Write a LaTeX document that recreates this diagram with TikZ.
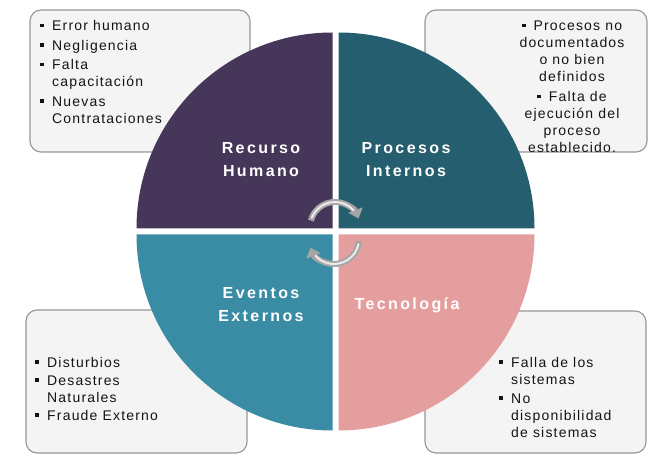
\documentclass[tikz,border=0pt]{standalone}
\usepackage{fontspec}
\setmainfont{Liberation Sans}
\newfontfamily\listfont[LetterSpace=8.5]{Liberation Sans}
\newfontfamily\labfont[LetterSpace=15]{Liberation Sans}
\usetikzlibrary{arrows.meta}
\definecolor{cpurple}{RGB}{70,54,90}
\definecolor{cteal}{RGB}{37,94,110}
\definecolor{clteal}{RGB}{58,140,165}
\definecolor{cpink}{RGB}{229,158,158}
\definecolor{cbox}{RGB}{244,244,244}
\definecolor{cboxline}{RGB}{150,150,150}
\definecolor{ctext}{RGB}{20,20,20}
\definecolor{carrow}{RGB}{165,165,165}
\definecolor{carrowhi}{RGB}{235,235,235}
\newcommand{\bul}{\raisebox{3.5pt}{\rule{3.6pt}{3.6pt}}}
\newcommand{\bb}{\makebox[12pt][l]{\bul}}
\tikzset{
  infobox/.style={fill=cbox,draw=cboxline,line width=1.1pt,rounded corners=11pt},
  listtxt/.style={inner sep=0pt,text=ctext,font=\listfont\fontsize{14}{17}\selectfont},
  labtxt/.style={inner sep=0pt,text=white,font=\labfont\bfseries\fontsize{16}{23}\selectfont},
  cyclearrow/.style={line width=6pt,draw=carrow,-{Triangle[width=15pt,length=9pt]}},
  cyclehi/.style={line width=2pt,draw=carrowhi,line cap=round}
}
\begin{document}
\begin{tikzpicture}[x=1pt,y=1pt]
\useasboundingbox (0,0) rectangle (652,455);
% info boxes
\draw[infobox] (30,303) rectangle (250,445);
\draw[infobox] (425,303) rectangle (647,445);
\draw[infobox] (26,2) rectangle (247,145);
\draw[infobox] (425,2) rectangle (646,144);
% quadrants
\fill[cpurple] (332.5,226.5) -- ++(-196,0) arc[start angle=180,end angle=90,radius=196] -- cycle;
\fill[cteal] (338.5,226.5) -- ++(196,0) arc[start angle=0,end angle=90,radius=196] -- cycle;
\fill[clteal] (332.5,220.5) -- ++(-196,0) arc[start angle=180,end angle=270,radius=196] -- cycle;
\fill[cpink] (338.5,220.5) -- ++(196,0) arc[start angle=0,end angle=-90,radius=196] -- cycle;
% cycle arrows
\coordinate (ca) at (335,228);
\coordinate (cb) at (334,216);
\draw[cyclearrow] (ca) ++(165:25) arc[start angle=165,end angle=20,radius=25];
\draw[cyclehi] (ca) ++(158:25) arc[start angle=158,end angle=42,radius=25];
\draw[cyclearrow] (cb) ++(-5:25) arc[start angle=-5,end angle=-160,radius=25];
\draw[cyclehi] (cb) ++(-12:25) arc[start angle=-12,end angle=-138,radius=25];
% labels
\node[labtxt,anchor=base] (rh) at (261,301) {\begin{tabular}[t]{@{}c@{}}Recurso\\Humano\end{tabular}};
\node[labtxt,anchor=base] (pi) at (406,301) {\begin{tabular}[t]{@{}c@{}}Procesos\\Internos\end{tabular}};
\node[labtxt,anchor=base] (ee) at (261,157) {\begin{tabular}[t]{@{}c@{}}Eventos\\Externos\end{tabular}};
\node[labtxt,anchor=base] (te) at (407,146) {Tecnología};
% lists
\node[listtxt,anchor=base west] (l1) at (40,424) {\begin{tabular}[t]{@{}l@{}l@{}}
\bb & Error humano\\[2.5pt]
\bb & Negligencia\\[2.5pt]
\bb & Falta\\
 & capacitación\\[2.5pt]
\bb & Nuevas\\
 & Contrataciones
\end{tabular}};
\node[listtxt,anchor=base] (l2) at (572,424) {\begin{tabular}[t]{@{}c@{}}
\bul\hspace{8pt}Procesos no\\
documentados\\
o no bien\\
definidos\\[3pt]
\bul\hspace{8pt}Falta de\\
ejecución del\\
proceso\\
establecido.
\end{tabular}};
\node[listtxt,anchor=base west] (l3) at (35,88) {\begin{tabular}[t]{@{}l@{}l@{}}
\bb & Disturbios\\[1pt]
\bb & Desastres\\
 & Naturales\\[1pt]
\bb & Fraude Externo
\end{tabular}};
\node[listtxt,anchor=base west] (l4) at (499,88) {\begin{tabular}[t]{@{}l@{}l@{}}
\bb & Falla de los\\
 & sistemas\\[2.5pt]
\bb & No\\
 & disponibilidad\\
 & de sistemas
\end{tabular}};
\end{tikzpicture}
\end{document}
